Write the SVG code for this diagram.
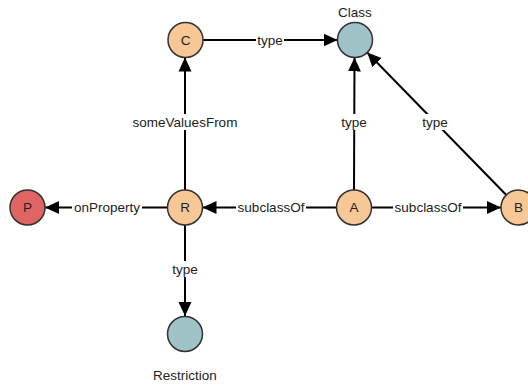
<svg xmlns="http://www.w3.org/2000/svg" width="528" height="385" viewBox="0 0 528 385">
<style>
.node{stroke:#333;stroke-width:1.5}
.orange{fill:#F8C796}
.teal{fill:#9FC3C7}
.red{fill:#E06464}
.edge{stroke:#000;stroke-width:2;fill:none}
.lbg{fill:#fff}
text{font-family:"Liberation Sans",Arial,sans-serif;font-size:13.5px;fill:#222;text-anchor:middle;dominant-baseline:central}
</style>
<defs>
<marker id="arr" markerUnits="userSpaceOnUse" markerWidth="14" markerHeight="14" viewBox="0 0 14 14" refX="14" refY="7" orient="auto">
<path d="M0,0.5 L14,7 L0,13.5 z" fill="#000"/>
</marker>
</defs>
<rect width="528" height="385" fill="#fff"/>
<g id="connectors">
<line class="edge" x1="203" y1="40" x2="337.5" y2="40" marker-end="url(#arr)"/>
<rect class="lbg" x="256" y="32" width="28" height="16"/>
<text x="270" y="40">type</text>

<line class="edge" x1="185" y1="190" x2="185" y2="57.5" marker-end="url(#arr)"/>
<rect class="lbg" x="131" y="114" width="108" height="16"/>
<text x="185" y="122">someValuesFrom</text>

<line class="edge" x1="354" y1="190" x2="354.5" y2="57.5" marker-end="url(#arr)"/>
<rect class="lbg" x="340" y="114" width="28" height="16"/>
<text x="354" y="122">type</text>

<line class="edge" x1="506.3" y1="195" x2="367.2" y2="52.5" marker-end="url(#arr)"/>
<rect class="lbg" x="421" y="114" width="29" height="16"/>
<text x="435" y="122">type</text>

<line class="edge" x1="167.5" y1="207.5" x2="45" y2="207.5" marker-end="url(#arr)"/>
<rect class="lbg" x="72" y="199" width="70" height="16"/>
<text x="107" y="207.5">onProperty</text>

<line class="edge" x1="336.5" y1="207.5" x2="202.5" y2="207.5" marker-end="url(#arr)"/>
<rect class="lbg" x="236" y="199" width="70" height="16"/>
<text x="271" y="207.5">subclassOf</text>

<line class="edge" x1="371.5" y1="207.5" x2="501" y2="207.5" marker-end="url(#arr)"/>
<rect class="lbg" x="393" y="199" width="70" height="16"/>
<text x="428" y="207.5">subclassOf</text>

<line class="edge" x1="185" y1="225" x2="185" y2="316" marker-end="url(#arr)"/>
<rect class="lbg" x="171" y="261" width="28" height="16"/>
<text x="185" y="269">type</text>
</g>
<g id="C"><circle class="node orange" cx="185.5" cy="40" r="17.5"/><text x="185.5" y="40">C</text></g>
<g id="Class"><circle class="node teal" cx="355" cy="40" r="17.5"/><text x="355" y="12">Class</text></g>
<g id="R"><circle class="node orange" cx="185" cy="207.5" r="17.5"/><text x="185" y="207.5">R</text></g>
<g id="A"><circle class="node orange" cx="354" cy="207.5" r="17.5"/><text x="354" y="207.5">A</text></g>
<g id="B"><circle class="node orange" cx="518.5" cy="207.5" r="17.5"/><text x="518.5" y="207.5">B</text></g>
<g id="P"><circle class="node red" cx="27.5" cy="207.5" r="17.5"/><text x="27.5" y="207.5">P</text></g>
<g id="Restriction"><circle class="node teal" cx="185" cy="334" r="17.5"/><text x="185" y="375">Restriction</text></g>
</svg>
